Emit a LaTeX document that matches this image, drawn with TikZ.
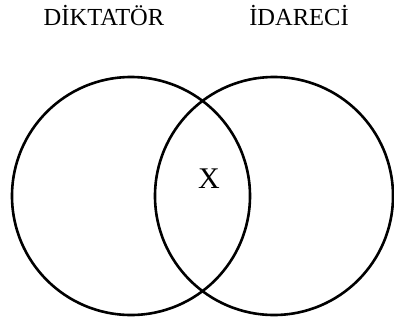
\documentclass[tikz,border=0pt]{standalone}
\usepackage{fontspec}
\setmainfont{Liberation Serif}
\begin{document}
\begin{tikzpicture}[x=1pt,y=-1pt,
  venn/.style={circle,draw=black,line width=2.6pt,minimum size=238pt,inner sep=0pt},
  lbl/.style={font=\fontsize{24.5}{26}\selectfont,inner sep=0pt,anchor=base}]
\useasboundingbox (0,0) rectangle (394,322);
\node[venn] (left) at (131,196) {};
\node[venn] (right) at (274,196) {};
\node[lbl] (t1) at (104,25) {DİKTATÖR};
\node[lbl] (t2) at (299,25) {İDARECİ};
\node[font=\fontsize{30}{32}\selectfont,inner sep=0pt,anchor=base] (x) at (209,188) {X};
\end{tikzpicture}
\end{document}
